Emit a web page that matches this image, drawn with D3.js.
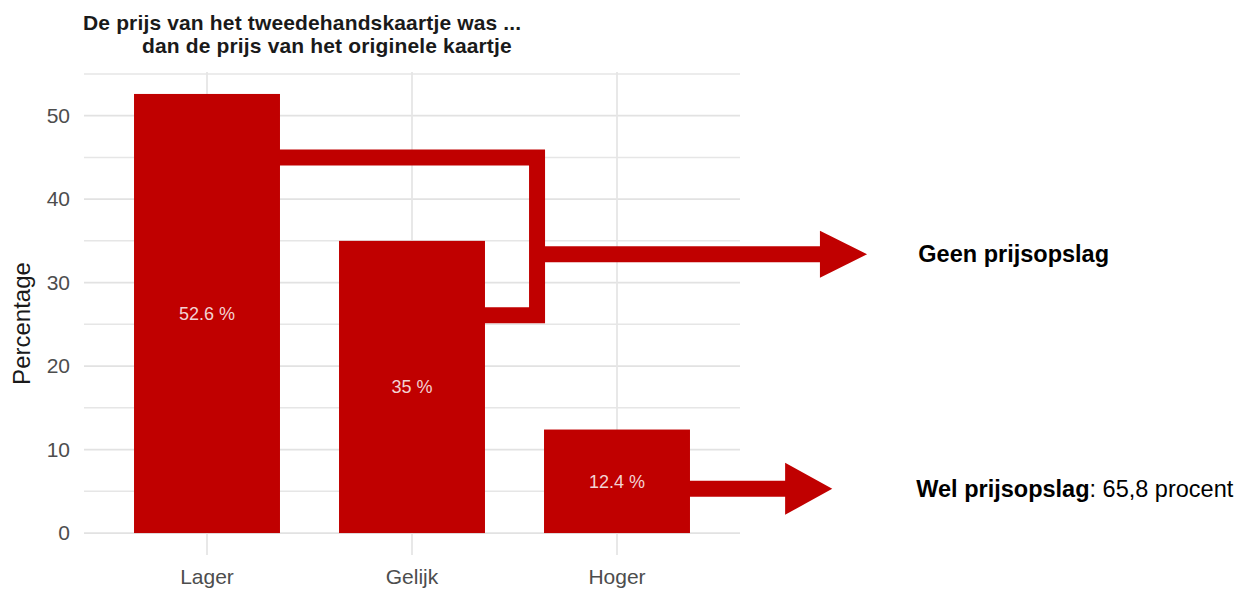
<!DOCTYPE html>
<html>
<head>
<meta charset="utf-8">
<script src="https://cdn.jsdelivr.net/npm/d3@7"></script>
<style>
  body { margin: 0; background: #fff; }
  svg text { font-family: "Liberation Sans", Arial, sans-serif; }
</style>
</head>
<body>
<div id="chart"></div>
<script>
// data
const categories = ['Lager', 'Gelijk', 'Hoger'];
const percentages = [52.6, 35, 12.4];
const barLabels = ['52.6 %', '35 %', '12.4 %'];
const yTicks = [0, 10, 20, 30, 40, 50];
const yMinorTicks = [5, 15, 25, 35, 45, 55];
const titleLines = ['De prijs van het tweedehandskaartje was ...', 'dan de prijs van het originele kaartje'];

// annotation anchors, in data units (x = category index, y = percentage)
const bracketY = [45, 26.1];     // Lager joint, Gelijk joint
const bracketX = 1.61;
const upperArrow = {y: 33.4, headStart: 2.99, tip: 3.22, textX: 3.47};
const lowerArrow = {y: 5.3, headStart: 2.82, tip: 3.05, textX: 3.46};

const width = 1248;
const height = 589;
const panel = {left: 84, right: 740, top: 72, bottom: 555};
const red = '#c00000';

const svg = d3.select('#chart').append('svg')
  .attr('width', width)
  .attr('height', height);

const x = d3.scaleBand()
  .domain(categories)
  .range([panel.left, panel.right])
  .paddingInner(0.288)
  .paddingOuter(0.244);

// continuous companion of the band scale, for annotation positions
const xLin = d3.scaleLinear()
  .domain([-0.6, categories.length - 1 + 0.6])
  .range([panel.left, panel.right]);

const yMax = d3.max(percentages);
const y = d3.scaleLinear()
  .domain([-yMax * 0.05, yMax * 1.05])
  .range([panel.bottom, panel.top]);

// grid
const grid = svg.append('g');
grid.selectAll('.minor')
  .data(yMinorTicks.filter(d => y(d) >= panel.top - 3))
  .enter().append('line')
  .attr('x1', panel.left).attr('x2', panel.right)
  .attr('y1', d => y(d)).attr('y2', d => y(d))
  .attr('stroke', '#e6e6e6').attr('stroke-width', 1.5);
grid.selectAll('.major')
  .data(yTicks)
  .enter().append('line')
  .attr('x1', panel.left).attr('x2', panel.right)
  .attr('y1', d => y(d)).attr('y2', d => y(d))
  .attr('stroke', '#e2e2e2').attr('stroke-width', 1.8);
grid.selectAll('.vert')
  .data(categories)
  .enter().append('line')
  .attr('x1', d => x(d) + x.bandwidth() / 2).attr('x2', d => x(d) + x.bandwidth() / 2)
  .attr('y1', panel.top).attr('y2', panel.bottom)
  .attr('stroke', '#e6e6e6').attr('stroke-width', 1.8);

// bars
svg.selectAll('.bar')
  .data(categories)
  .enter().append('rect')
  .attr('x', d => x(d))
  .attr('y', (d, i) => y(percentages[i]))
  .attr('width', x.bandwidth())
  .attr('height', (d, i) => y(0) - y(percentages[i]))
  .attr('fill', red);

svg.selectAll('.bar-label')
  .data(categories)
  .enter().append('text')
  .attr('x', d => x(d) + x.bandwidth() / 2)
  .attr('y', (d, i) => y(percentages[i] / 2))
  .attr('dy', '0.35em')
  .attr('text-anchor', 'middle')
  .attr('font-size', 18)
  .attr('fill', '#f3d2d2')
  .text((d, i) => barLabels[i]);

// axes (text only, theme_minimal style)
const yAxis = svg.append('g')
  .attr('transform', `translate(${panel.left - 14},0)`)
  .call(d3.axisLeft(y).tickValues(yTicks).tickSize(0).tickPadding(0));
yAxis.select('.domain').remove();
yAxis.selectAll('text')
  .attr('font-size', 21)
  .attr('fill', '#4d4d4d')
  .attr('font-family', '"Liberation Sans", Arial, sans-serif');

const xAxis = svg.append('g')
  .attr('transform', `translate(0,${panel.bottom})`)
  .call(d3.axisBottom(x).tickSize(0).tickPadding(14));
xAxis.select('.domain').remove();
xAxis.selectAll('text')
  .attr('font-size', 21)
  .attr('fill', '#4d4d4d')
  .attr('font-family', '"Liberation Sans", Arial, sans-serif');

svg.append('text')
  .attr('transform', `translate(30,${(y(0) + y(yMax)) / 2 + 10}) rotate(-90)`)
  .attr('text-anchor', 'middle')
  .attr('font-size', 24)
  .attr('fill', '#1a1a1a')
  .text('Percentage');

// title
svg.append('text')
  .attr('x', 83).attr('y', 30)
  .attr('font-size', 21).attr('font-weight', 'bold').attr('fill', '#1a1a1a')
  .attr('letter-spacing', 0.15)
  .text(titleLines[0]);
svg.append('text')
  .attr('x', 142).attr('y', 53)
  .attr('font-size', 21).attr('font-weight', 'bold').attr('fill', '#1a1a1a')
  .attr('letter-spacing', 0.15)
  .text(titleLines[1]);

// annotations
const lineW = 16;
const lagerRight = x('Lager') + x.bandwidth();
const gelijkRight = x('Gelijk') + x.bandwidth();
const hogerRight = x('Hoger') + x.bandwidth();

svg.append('path')
  .attr('d', `M${lagerRight - 2},${y(bracketY[0])}H${xLin(bracketX)}V${y(bracketY[1])}H${gelijkRight - 2}`)
  .attr('fill', 'none')
  .attr('stroke', red)
  .attr('stroke-width', lineW)
  .attr('stroke-linejoin', 'miter');

function arrow(x0, a, half) {
  const yy = y(a.y);
  svg.append('line')
    .attr('x1', x0).attr('x2', xLin(a.headStart) + 2)
    .attr('y1', yy).attr('y2', yy)
    .attr('stroke', red).attr('stroke-width', lineW);
  svg.append('path')
    .attr('d', `M${xLin(a.headStart)},${yy - half}L${xLin(a.tip)},${yy}L${xLin(a.headStart)},${yy + half}Z`)
    .attr('fill', red);
}
arrow(xLin(bracketX), upperArrow, 23.5);
arrow(hogerRight - 2, lowerArrow, 26);

svg.append('text')
  .attr('x', xLin(upperArrow.textX)).attr('y', y(upperArrow.y))
  .attr('dy', '0.35em')
  .attr('font-size', 23.5).attr('font-weight', 'bold').attr('fill', '#000')
  .text('Geen prijsopslag');

const wel = svg.append('text')
  .attr('x', xLin(lowerArrow.textX)).attr('y', y(lowerArrow.y))
  .attr('dy', '0.35em')
  .attr('font-size', 23.5).attr('fill', '#000');
wel.append('tspan').attr('font-weight', 'bold').text('Wel prijsopslag');
wel.append('tspan').text(': 65,8 procent');
</script>
</body>
</html>
